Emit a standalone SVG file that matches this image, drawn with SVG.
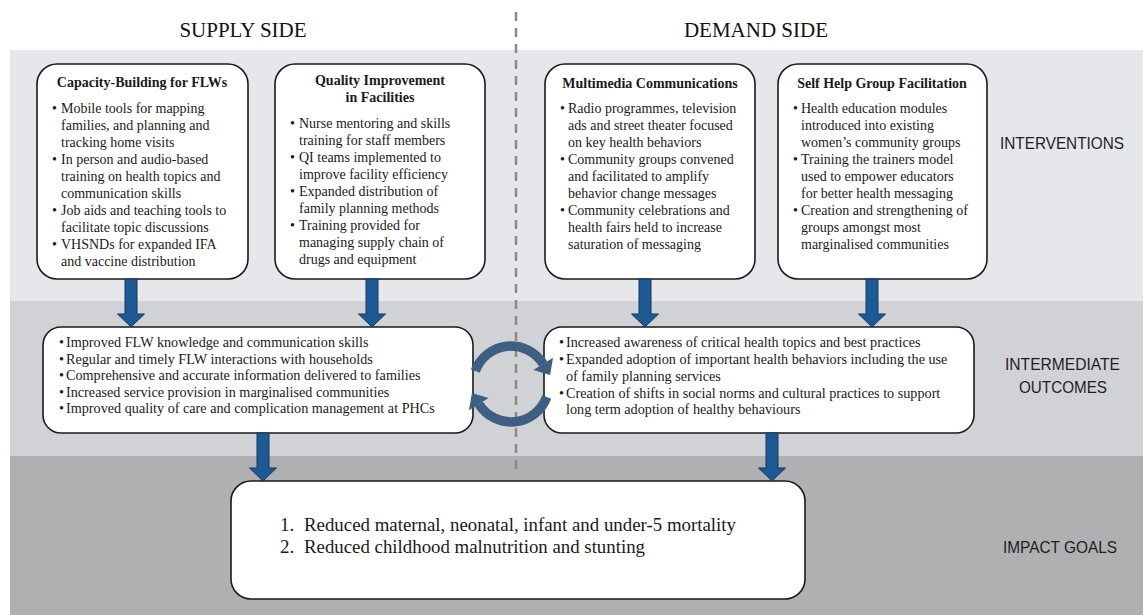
<svg xmlns="http://www.w3.org/2000/svg" width="1143" height="615" viewBox="0 0 1143 615">
<style>
.hdr{font-family:"Liberation Serif","Times New Roman",serif;font-size:21px;fill:#111;text-anchor:middle}
.box{fill:#fff;stroke:#1a1a1a;stroke-width:1.6}
.t{font-family:"Liberation Serif","Times New Roman",serif;font-size:14px;fill:#1a1a1a}
.ti{font-family:"Liberation Serif","Times New Roman",serif;font-size:14.2px;fill:#1a1a1a}
.tb{font-family:"Liberation Serif","Times New Roman",serif;font-size:14px;font-weight:bold;fill:#1a1a1a;text-anchor:middle}
.imp{font-family:"Liberation Serif","Times New Roman",serif;font-size:19px;fill:#1a1a1a}
.lab{font-family:"Liberation Sans",Arial,sans-serif;font-size:17px;fill:#1e1e1e}
.blue{fill:#1d5a95;stroke:#12365a;stroke-width:1}
.cyc{fill:none;stroke:#3e5f82;stroke-width:9.5}
.cych{fill:#3e5f82}
</style>
<rect x="10" y="50" width="1133" height="251" fill="#e6e7ea"/>
<rect x="10" y="301" width="1133" height="155" fill="#d1d2d5"/>
<rect x="10" y="456" width="1133" height="159" fill="#b0b0b2"/>
<text class="hdr" x="243" y="37">SUPPLY SIDE</text>
<text class="hdr" x="756" y="37">DEMAND SIDE</text>
<line x1="516" y1="12" x2="516" y2="472" stroke="#8a8a8a" stroke-width="2.5" stroke-dasharray="9,7"/>
<text class="lab" x="1000" y="149" textLength="124" lengthAdjust="spacingAndGlyphs">INTERVENTIONS</text>
<text class="lab" x="1005" y="370" textLength="115" lengthAdjust="spacingAndGlyphs">INTERMEDIATE</text>
<text class="lab" x="1019" y="393" textLength="88" lengthAdjust="spacingAndGlyphs">OUTCOMES</text>
<text class="lab" x="1003" y="553" textLength="114" lengthAdjust="spacingAndGlyphs">IMPACT GOALS</text>
<g id="capacity-building">
<rect class="box" x="37" y="64" width="211" height="215" rx="20"/>
<text class="tb" x="142" y="87">Capacity-Building for FLWs</text>
<text class="t" x="52" y="113">•</text><text class="t" x="61" y="113">Mobile tools for mapping</text>
<text class="t" x="61" y="130">families, and planning and</text>
<text class="t" x="61" y="147">tracking home visits</text>
<text class="t" x="52" y="164">•</text><text class="t" x="61" y="164">In person and audio-based</text>
<text class="t" x="61" y="181">training on health topics and</text>
<text class="t" x="61" y="198">communication skills</text>
<text class="t" x="52" y="215">•</text><text class="t" x="61" y="215">Job aids and teaching tools to</text>
<text class="t" x="61" y="232">facilitate topic discussions</text>
<text class="t" x="52" y="249">•</text><text class="t" x="61" y="249">VHSNDs for expanded IFA</text>
<text class="t" x="61" y="266">and vaccine distribution</text>
</g>
<g id="quality-improvement">
<rect class="box" x="275" y="64" width="210" height="215" rx="20"/>
<text class="tb" x="380" y="85">Quality Improvement</text>
<text class="tb" x="380" y="102">in Facilities</text>
<text class="t" x="290" y="128">•</text><text class="t" x="299" y="128">Nurse mentoring and skills</text>
<text class="t" x="299" y="145">training for staff members</text>
<text class="t" x="290" y="162">•</text><text class="t" x="299" y="162">QI teams implemented to</text>
<text class="t" x="299" y="179">improve facility efficiency</text>
<text class="t" x="290" y="196">•</text><text class="t" x="299" y="196">Expanded distribution of</text>
<text class="t" x="299" y="213">family planning methods</text>
<text class="t" x="290" y="230">•</text><text class="t" x="299" y="230">Training provided for</text>
<text class="t" x="299" y="247">managing supply chain of</text>
<text class="t" x="299" y="264">drugs and equipment</text>
</g>
<g id="multimedia-communications">
<rect class="box" x="545" y="64" width="210" height="215" rx="20"/>
<text class="tb" x="650" y="88">Multimedia Communications</text>
<text class="t" x="560" y="113">•</text><text class="t" x="568" y="113">Radio programmes, television</text>
<text class="t" x="568" y="130">ads and street theater focused</text>
<text class="t" x="568" y="147">on key health behaviors</text>
<text class="t" x="560" y="164">•</text><text class="t" x="568" y="164">Community groups convened</text>
<text class="t" x="568" y="181">and facilitated to amplify</text>
<text class="t" x="568" y="198">behavior change messages</text>
<text class="t" x="560" y="215">•</text><text class="t" x="568" y="215">Community celebrations and</text>
<text class="t" x="568" y="232">health fairs held to increase</text>
<text class="t" x="568" y="249">saturation of messaging</text>
</g>
<g id="self-help-group">
<rect class="box" x="778" y="64" width="209" height="215" rx="20"/>
<text class="tb" x="882" y="88">Self Help Group Facilitation</text>
<text class="t" x="793" y="113">•</text><text class="t" x="801" y="113">Health education modules</text>
<text class="t" x="801" y="130">introduced into existing</text>
<text class="t" x="801" y="147">women’s community groups</text>
<text class="t" x="793" y="164">•</text><text class="t" x="801" y="164">Training the trainers model</text>
<text class="t" x="801" y="181">used to empower educators</text>
<text class="t" x="801" y="198">for better health messaging</text>
<text class="t" x="793" y="215">•</text><text class="t" x="801" y="215">Creation and strengthening of</text>
<text class="t" x="801" y="232">groups amongst most</text>
<text class="t" x="801" y="249">marginalised communities</text>
</g>
<g id="supply-outcomes">
<rect class="box" x="43" y="327" width="430" height="106" rx="18"/>
<text class="ti" x="59" y="347">•</text><text class="ti" x="66" y="347">Improved FLW knowledge and communication skills</text>
<text class="ti" x="59" y="363.5">•</text><text class="ti" x="66" y="363.5">Regular and timely FLW interactions with households</text>
<text class="ti" x="59" y="380">•</text><text class="ti" x="66" y="380">Comprehensive and accurate information delivered to families</text>
<text class="ti" x="59" y="396.5">•</text><text class="ti" x="66" y="396.5">Increased service provision in marginalised communities</text>
<text class="ti" x="59" y="413">•</text><text class="ti" x="66" y="413">Improved quality of care and complication management at PHCs</text>
</g>
<g id="demand-outcomes">
<rect class="box" x="544" y="327" width="430" height="106" rx="18"/>
<text class="ti" x="559" y="347">•</text><text class="ti" x="566" y="347">Increased awareness of critical health topics and best practices</text>
<text class="ti" x="559" y="364">•</text><text class="ti" x="566" y="364">Expanded adoption of important health behaviors including the use</text>
<text class="ti" x="566" y="381">of family planning services</text>
<text class="ti" x="559" y="397.5">•</text><text class="ti" x="566" y="397.5">Creation of shifts in social norms and cultural practices to support</text>
<text class="ti" x="566" y="414">long term adoption of healthy behaviours</text>
</g>
<g id="impact-goals">
<rect class="box" x="231" y="481" width="574" height="118" rx="20"/>
<text class="imp" x="280" y="531">1.</text><text class="imp" x="304" y="531" textLength="432" lengthAdjust="spacingAndGlyphs">Reduced maternal, neonatal, infant and under-5 mortality</text>
<text class="imp" x="280" y="553">2.</text><text class="imp" x="304" y="553" textLength="341" lengthAdjust="spacingAndGlyphs">Reduced childhood malnutrition and stunting</text>
</g>
<g id="connectors">
<polygon class="blue" points="125,279 137,279 137,314 144.5,314 131,327 117.5,314 125,314"/>
<polygon class="blue" points="366,279 378,279 378,314 385.5,314 372,327 358.5,314 366,314"/>
<polygon class="blue" points="639,279 651,279 651,314 658.5,314 645,327 631.5,314 639,314"/>
<polygon class="blue" points="866,279 878,279 878,314 885.5,314 872,327 858.5,314 866,314"/>
<polygon class="blue" points="257,433 269,433 269,468 276.5,468 263,481 249.5,468 257,468"/>
<polygon class="blue" points="766,433 778,433 778,468 785.5,468 772,481 758.5,468 766,468"/>
<path class="cyc" d="M475.3,371 A38,38 0 0 1 543.2,363.9"/>
<polygon class="cych" points="553,357.8 533.4,370 550.1,374.9"/>
<path class="cyc" d="M546.7,397 A38,38 0 0 1 478.8,404.1"/>
<polygon class="cych" points="488.6,398 469,410.2 471.9,393.1"/>
</g>
</svg>
